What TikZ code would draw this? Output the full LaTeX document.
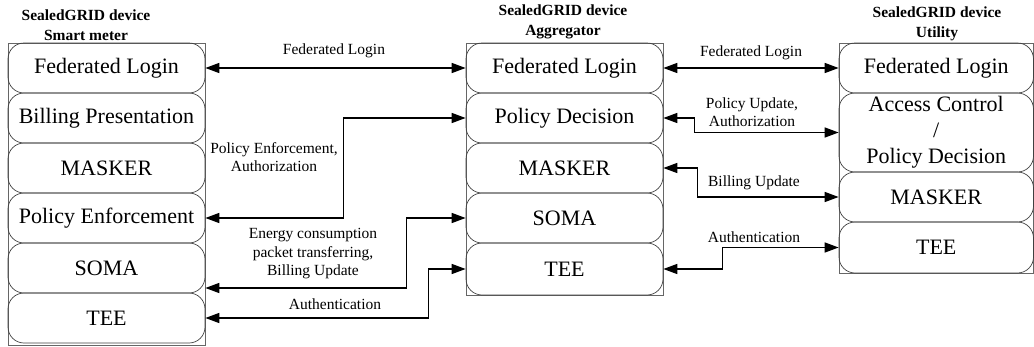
\documentclass[tikz,border=0pt]{standalone}
\usepackage{fontspec}
\setmainfont{Liberation Serif}
\usetikzlibrary{arrows.meta,positioning}

\tikzset{
  layer/.style={draw=black!75, line width=0.7pt, rounded corners=16pt,
    minimum width=197pt, inner sep=0pt, align=center,
    font=\fontsize{22}{27}\selectfont},
  frame/.style={draw=black!60, line width=0.8pt},
  title/.style={align=center, font=\bfseries\fontsize{15.5}{19.5}\selectfont},
  lbl/.style={align=center, font=\fontsize{15.5}{18.5}\selectfont, inner sep=0pt},
  link/.style={line width=1.5pt, {Triangle[length=14pt,width=10pt]}-{Triangle[length=14pt,width=10pt]}},
}

\begin{document}
\begin{tikzpicture}[x=1pt,y=-1pt]
\useasboundingbox (0,0) rectangle (1034,346);

% ---- Smart meter stack ----
\draw[frame] (8,43) rectangle (205,345);
\node[layer, minimum height=50pt] (sm-fl) at (106.5,68)  {Federated Login};
\node[layer, minimum height=50pt] (sm-bp) at (106.5,118) {Billing Presentation};
\node[layer, minimum height=50pt] (sm-ma) at (106.5,168) {MASKER};
\node[layer, minimum height=50pt] (sm-pe) at (106.5,218) {Policy Enforcement};
\node[layer, minimum height=50pt] (sm-so) at (106.5,268) {SOMA};
\node[layer, minimum height=50pt] (sm-te) at (106.5,318) {TEE};
\node[title] (sm-title) at (86,25) {SealedGRID device\\Smart meter};

% ---- Aggregator stack ----
\draw[frame] (466,43) rectangle (663,295);
\node[layer, minimum height=50pt] (ag-fl) at (564.5,68)  {Federated Login};
\node[layer, minimum height=50pt] (ag-pd) at (564.5,118) {Policy Decision};
\node[layer, minimum height=50pt] (ag-ma) at (564.5,168) {MASKER};
\node[layer, minimum height=50pt] (ag-so) at (564.5,218) {SOMA};
\node[layer, minimum height=52pt] (ag-te) at (564.5,269) {TEE};
\node[title] (ag-title) at (563,22) {SealedGRID device\\Aggregator};

% ---- Utility stack ----
\draw[frame] (839,43) rectangle (1033.5,273);
\node[layer, minimum width=194.5pt, minimum height=50pt] (ut-fl) at (936.25,68) {Federated Login};
\node[layer, minimum width=194.5pt, minimum height=79pt] (ut-ac) at (936.25,132.5)
  {Access Control\\[-1pt]/\\[-1pt]Policy Decision};
\node[layer, minimum width=194.5pt, minimum height=50pt] (ut-ma) at (936.25,197) {MASKER};
\node[layer, minimum width=194.5pt, minimum height=51pt] (ut-te) at (936.25,247.5) {TEE};
\node[title] (ut-title) at (937,24) {SealedGRID device\\Utility};

% ---- Smart meter <-> Aggregator ----
\draw[link] (sm-fl.east) -- (ag-fl.west);
\node[lbl] (l-fl1) at (334,51) {Federated Login};

\draw[link] (sm-pe.east) -- ++(138,0) |- (ag-pd.west);
\node[lbl] (l-pe) at (274,157) {Policy Enforcement,\\Authorization};

\draw[link] ([yshift=-20pt]sm-so.east) -- ++(201,0) |- (ag-so.west);
\node[lbl] (l-ec) at (313,254) {Energy consumption\\packet transferring,\\Billing Update};

\draw[link] (sm-te.east) -- ++(223,0) |- (ag-te.west);
\node[lbl] (l-au1) at (335,304) {Authentication};

% ---- Aggregator <-> Utility ----
\draw[link] (ag-fl.east) -- (ut-fl.west);
\node[lbl] (l-fl2) at (751,53) {Federated Login};

\draw[link] (ag-pd.east) -- ++(31,0) |- (ut-ac.west);
\node[lbl] (l-pu) at (752,112) {Policy Update,\\Authorization};

\draw[link] (ag-ma.east) -- ++(34,0) |- (ut-ma.west);
\node[lbl] (l-bu) at (754,183) {Billing Update};

\draw[link] (ag-te.east) -- ++(59,0) |- (ut-te.west);
\node[lbl] (l-au2) at (754,237) {Authentication};
\end{tikzpicture}
\end{document}
